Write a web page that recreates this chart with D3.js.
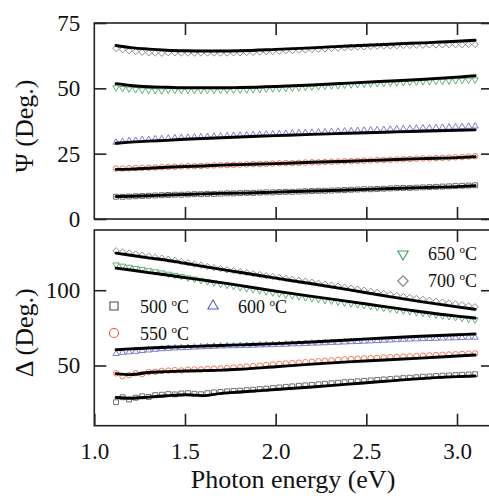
<!DOCTYPE html>
<html>
<head>
<meta charset="utf-8">
<script src="https://cdn.jsdelivr.net/npm/d3@7"></script>
<style>
  html, body { margin: 0; padding: 0; background: #fff; }
  svg { display: block; }
  svg text { font-family: "Liberation Serif", "Times New Roman", serif !important; }
</style>
</head>
<body>
<svg id="chart" width="489" height="498"></svg>
<script>
// Photon energies of the measured points (eV)
const energy = [
  1.120, 1.156, 1.192, 1.228, 1.264, 1.300, 1.336, 1.372,
  1.408, 1.444, 1.480, 1.516, 1.552, 1.588, 1.624, 1.660,
  1.696, 1.732, 1.768, 1.804, 1.840, 1.876, 1.912, 1.948,
  1.984, 2.020, 2.056, 2.092, 2.128, 2.164, 2.200, 2.236,
  2.272, 2.308, 2.344, 2.380, 2.416, 2.452, 2.488, 2.524,
  2.560, 2.596, 2.632, 2.668, 2.704, 2.740, 2.776, 2.812,
  2.848, 2.884, 2.920, 2.956, 2.992, 3.028, 3.064, 3.100
];

// Measured Psi (deg) for each annealing temperature
const psi500 = [
  8.5, 8.5, 8.6, 8.7, 8.8, 8.9, 9.0, 9.1,
  9.2, 9.3, 9.3, 9.4, 9.5, 9.5, 9.6, 9.6,
  9.7, 9.8, 9.8, 9.9, 10.0, 10.0, 10.1, 10.2,
  10.2, 10.3, 10.4, 10.4, 10.5, 10.6, 10.7, 10.8,
  10.8, 10.9, 11.0, 11.1, 11.2, 11.3, 11.4, 11.4,
  11.5, 11.6, 11.7, 11.8, 11.9, 11.9, 12.0, 12.1,
  12.2, 12.3, 12.4, 12.5, 12.6, 12.7, 12.8, 12.9
];
const psi550 = [
  19.3, 19.3, 19.4, 19.5, 19.6, 19.6, 19.7, 19.8,
  19.9, 20.0, 20.1, 20.2, 20.2, 20.3, 20.4, 20.5,
  20.6, 20.6, 20.7, 20.8, 20.9, 21.0, 21.0, 21.1,
  21.2, 21.3, 21.4, 21.4, 21.5, 21.6, 21.7, 21.7,
  21.8, 21.9, 22.0, 22.1, 22.1, 22.2, 22.3, 22.4,
  22.5, 22.6, 22.7, 22.8, 22.9, 23.0, 23.1, 23.2,
  23.2, 23.3, 23.4, 23.5, 23.6, 23.7, 23.9, 24.0
];
const psi600 = [
  29.3, 29.6, 29.9, 30.0, 30.3, 30.4, 30.6, 30.7,
  30.9, 31.0, 31.1, 31.2, 31.3, 31.4, 31.5, 31.6,
  31.7, 31.8, 31.9, 32.0, 32.1, 32.2, 32.3, 32.4,
  32.5, 32.6, 32.7, 32.8, 32.9, 33.0, 33.1, 33.2,
  33.3, 33.4, 33.5, 33.6, 33.7, 33.8, 33.9, 34.0,
  34.1, 34.2, 34.3, 34.4, 34.5, 34.6, 34.7, 34.8,
  34.8, 34.9, 35.0, 35.1, 35.2, 35.3, 35.4, 35.5
];
const psi650 = [
  50.3, 50.0, 49.8, 49.6, 49.4, 49.3, 49.2, 49.1,
  49.3, 49.3, 49.3, 49.3, 49.3, 49.3, 49.3, 49.3,
  49.4, 49.4, 49.4, 49.5, 49.5, 49.6, 49.7, 49.8,
  49.9, 50.0, 50.1, 50.2, 50.3, 50.5, 50.6, 50.7,
  50.9, 51.0, 51.1, 51.3, 51.4, 51.5, 51.7, 51.8,
  51.9, 52.0, 52.1, 52.2, 52.3, 52.4, 52.5, 52.6,
  52.7, 52.8, 52.8, 52.9, 53.0, 53.1, 53.2, 53.3
];
const psi700 = [
  65.3, 64.8, 64.4, 64.1, 63.8, 63.6, 63.5, 63.4,
  63.6, 63.6, 63.5, 63.5, 63.5, 63.5, 63.5, 63.5,
  63.5, 63.5, 63.6, 63.6, 63.7, 63.8, 63.9, 64.0,
  64.1, 64.2, 64.4, 64.5, 64.6, 64.7, 64.9, 65.0,
  65.1, 65.3, 65.4, 65.5, 65.7, 65.8, 65.9, 66.0,
  66.1, 66.2, 66.2, 66.3, 66.4, 66.4, 66.5, 66.5,
  66.6, 66.6, 66.6, 66.7, 66.7, 66.7, 66.8, 66.8
];

// Measured Delta (deg) for each annealing temperature
const delta500 = [
  25.6, 28.9, 27.4, 28.6, 29.5, 29.1, 30.3, 30.6,
  31.0, 30.8, 31.4, 31.6, 31.2, 30.9, 31.6, 32.1,
  32.4, 32.8, 33.1, 33.3, 33.6, 33.9, 34.3, 34.6,
  35.0, 35.4, 35.8, 36.1, 36.5, 36.8, 37.1, 37.5,
  37.8, 38.2, 38.5, 38.9, 39.2, 39.5, 39.8, 40.1,
  40.4, 40.7, 41.0, 41.3, 41.6, 41.9, 42.2, 42.5,
  42.7, 43.0, 43.2, 43.4, 43.6, 43.8, 44.0, 44.2
];
const delta550 = [
  44.8, 42.9, 43.6, 44.9, 44.3, 45.6, 45.8, 46.4,
  46.6, 46.9, 46.7, 47.2, 47.4, 47.3, 47.7, 47.9,
  48.0, 48.3, 48.6, 48.9, 49.3, 49.6, 49.9, 50.3,
  50.6, 51.0, 51.3, 51.6, 51.9, 52.2, 52.5, 52.8,
  53.1, 53.4, 53.7, 54.0, 54.3, 54.5, 54.7, 54.9,
  55.1, 55.3, 55.5, 55.7, 55.9, 56.1, 56.3, 56.5,
  56.7, 56.9, 57.1, 57.3, 57.5, 57.7, 57.9, 58.0
];
const delta600 = [
  57.8, 58.6, 58.9, 59.3, 59.8, 60.2, 60.6, 61.0,
  61.3, 61.5, 61.7, 61.9, 62.1, 62.3, 62.4, 62.6,
  62.8, 62.9, 63.0, 63.1, 63.2, 63.3, 63.5, 63.6,
  63.7, 63.9, 64.0, 64.2, 64.3, 64.5, 64.7, 64.8,
  65.0, 65.2, 65.3, 65.5, 65.7, 65.8, 66.0, 66.2,
  66.4, 66.6, 66.8, 67.0, 67.3, 67.4, 67.6, 67.7,
  67.8, 67.9, 68.1, 68.2, 68.3, 68.5, 68.6, 68.7
];
const delta650 = [
  116.9, 116.1, 115.4, 114.6, 113.9, 113.1, 112.4, 111.6,
  110.8, 110.0, 109.2, 108.3, 107.5, 106.7, 105.8, 105.0,
  104.1, 103.4, 102.7, 101.9, 101.2, 100.5, 99.8, 99.1,
  98.4, 97.7, 97.0, 96.4, 95.8, 95.2, 94.6, 94.0,
  93.4, 92.9, 92.3, 91.7, 91.1, 90.5, 89.9, 89.3,
  88.7, 88.2, 87.6, 87.0, 86.4, 85.9, 85.3, 84.8,
  84.2, 83.7, 83.1, 82.6, 82.0, 81.5, 80.9, 80.4
];
const delta700 = [
  126.2, 125.4, 124.7, 124.0, 123.3, 122.6, 121.9, 121.3,
  120.6, 119.8, 119.0, 118.2, 117.4, 116.6, 115.8, 115.0,
  114.3, 113.6, 113.0, 112.3, 111.7, 111.0, 110.4, 109.7,
  109.1, 108.5, 107.9, 107.2, 106.6, 106.0, 105.3, 104.6,
  104.0, 103.3, 102.7, 102.0, 101.4, 100.7, 100.0, 99.3,
  98.6, 97.9, 97.2, 96.5, 95.8, 95.2, 94.5, 93.9,
  93.3, 92.7, 92.1, 91.5, 90.9, 90.3, 89.6, 89.0
];

// Model fits
const fitEnergy = [1.12, 1.2, 1.3, 1.4, 1.5, 1.6, 1.7, 1.8, 2.0, 2.2, 2.4, 2.6, 2.8, 3.0, 3.1];
const psiFit500 = [8.6, 8.7, 8.9, 9.2, 9.4, 9.6, 9.8, 9.9, 10.3, 10.7, 11.1, 11.6, 12.0, 12.4, 12.7];
const psiFit550 = [19.0, 19.1, 19.4, 19.8, 20.1, 20.3, 20.6, 20.8, 21.2, 21.7, 22.1, 22.6, 23.1, 23.5, 23.8];
const psiFit600 = [29.0, 29.4, 29.8, 30.1, 30.5, 30.8, 31.1, 31.4, 31.9, 32.4, 32.8, 33.2, 33.6, 33.9, 34.1];
const psiFit650 = [51.8, 51.1, 50.6, 50.4, 50.2, 50.2, 50.2, 50.3, 50.7, 51.3, 52.0, 52.7, 53.4, 54.3, 54.8];
const psiFit700 = [66.4, 65.6, 65.0, 64.6, 64.4, 64.3, 64.3, 64.4, 64.9, 65.5, 66.2, 66.8, 67.4, 68.0, 68.4];
const deltaFit500 = [28.7, 28.2, 29.0, 29.9, 30.6, 30.0, 31.5, 32.4, 34.0, 35.7, 37.6, 39.5, 41.3, 42.6, 43.0];
const deltaFit550 = [44.6, 43.9, 45.3, 45.9, 46.3, 46.6, 46.9, 47.5, 49.2, 50.9, 52.4, 53.6, 54.9, 56.3, 57.0];
const deltaFit600 = [60.5, 61.0, 61.6, 62.1, 62.5, 62.9, 63.3, 63.7, 64.5, 65.6, 66.9, 68.3, 69.4, 70.4, 70.9];
const deltaFit650 = [114.7, 113.4, 111.7, 110.1, 108.4, 106.7, 105.0, 103.2, 99.4, 95.9, 92.6, 89.1, 85.7, 82.8, 81.5];
const deltaFit700 = [124.6, 123.2, 121.5, 119.9, 117.9, 115.8, 113.8, 111.9, 108.0, 104.3, 100.4, 96.3, 92.4, 88.9, 87.3];

// Axis ticks
const xTicks = [1.0, 1.5, 2.0, 2.5, 3.0];
const psiTicks = [0, 25, 50, 75];
const deltaTicks = [50, 100];
const temperatures = ["500", "550", "600", "650", "700"];

const series = [
  { temp: temperatures[0], color: "#4d4d4d", shape: "square",  psi: psi500, delta: delta500, psiFit: psiFit500, deltaFit: deltaFit500 },
  { temp: temperatures[1], color: "#ef5a3a", shape: "circle",  psi: psi550, delta: delta550, psiFit: psiFit550, deltaFit: deltaFit550 },
  { temp: temperatures[2], color: "#5a5fc4", shape: "triUp",   psi: psi600, delta: delta600, psiFit: psiFit600, deltaFit: deltaFit600 },
  { temp: temperatures[3], color: "#3c9c5c", shape: "triDown", psi: psi650, delta: delta650, psiFit: psiFit650, deltaFit: deltaFit650 },
  { temp: temperatures[4], color: "#7a7a7a", shape: "diamond", psi: psi700, delta: delta700, psiFit: psiFit700, deltaFit: deltaFit700 }
];

const svg = d3.select("#chart");
const frameLeft = 94.3, frameRight = 493;
const x = d3.scaleLinear().domain([1.0, 3.0]).range([94.3, 457]);

const panels = [
  { key: "psi", fit: "psiFit", top: 23, bottom: 219, domain: [0, 75], ticks: psiTicks, title: "\u03A8 (Deg.)" },
  { key: "delta", fit: "deltaFit", top: 230, bottom: 425.7, domain: [10, 140], ticks: deltaTicks, title: "\u0394 (Deg.)" }
];

function symbolPath(shape, scale) {
  const s = scale;
  switch (shape) {
    case "square":  return { d: d3.symbol(d3.symbolSquare, 24 * s)(), rot: 0 };
    case "circle":  return { d: d3.symbol(d3.symbolCircle, 24 * s)(), rot: 0 };
    case "triUp":   return { d: d3.symbol(d3.symbolTriangle, 17 * s)(), rot: 0 };
    case "triDown": return { d: d3.symbol(d3.symbolTriangle, 17 * s)(), rot: 180 };
    case "diamond": return { d: d3.symbol(d3.symbolSquare, 20 * s)(), rot: 45 };
  }
}

const tickLen = 12;

panels.forEach(p => {
  const y = d3.scaleLinear().domain(p.domain).range([p.bottom, p.top]);
  const g = svg.append("g");

  // Data markers
  series.forEach(s => {
    const sym = symbolPath(s.shape, 1);
    g.append("g").selectAll("path")
      .data(energy.map((e, i) => [e, s[p.key][i]]))
      .join("path")
      .attr("d", sym.d)
      .attr("transform", d => `translate(${x(d[0])},${y(d[1])}) rotate(${sym.rot})`)
      .attr("fill", "none")
      .attr("stroke", s.color)
      .attr("stroke-width", 0.9)
      .attr("stroke-opacity", 0.9);
  });

  // Fit curves
  const line = d3.line().x(d => x(d[0])).y(d => y(d[1])).curve(d3.curveMonotoneX);
  series.forEach(s => {
    g.append("path")
      .datum(fitEnergy.map((e, i) => [e, s[p.fit][i]]))
      .attr("d", line)
      .attr("fill", "none")
      .attr("stroke", "#000")
      .attr("stroke-width", 2.9)
      .attr("stroke-linecap", "round");
  });

  // Frame
  g.append("rect")
    .attr("x", frameLeft).attr("y", p.top)
    .attr("width", frameRight - frameLeft).attr("height", p.bottom - p.top)
    .attr("fill", "none").attr("stroke", "#222").attr("stroke-width", 1.6);

  // Inward ticks on all four sides
  const axisStyle = sel => {
    sel.select(".domain").remove();
    sel.selectAll(".tick line").attr("stroke", "#222").attr("stroke-width", 1.6);
  };
  svg.append("g").attr("transform", `translate(0,${p.top})`)
    .call(d3.axisTop(x).tickValues(xTicks.slice(1)).tickSize(-tickLen).tickFormat(""))
    .call(axisStyle);
  const bottomAxis = svg.append("g").attr("transform", `translate(0,${p.bottom})`)
    .call(d3.axisBottom(x).tickValues(p.key === "delta" ? xTicks : xTicks.slice(1))
      .tickSize(-tickLen).tickPadding(17)
      .tickFormat(p.key === "delta" ? d3.format(".1f") : ""))
    .call(axisStyle);
  bottomAxis.selectAll("text").attr("font-size", 23).attr("fill", "#111");

  const leftAxis = svg.append("g").attr("transform", `translate(${frameLeft},0)`)
    .call(d3.axisLeft(y).tickValues(p.ticks).tickSize(-tickLen).tickPadding(14).tickFormat(d3.format("d")))
    .call(axisStyle);
  leftAxis.selectAll("text").attr("font-size", 23).attr("fill", "#111");
  svg.append("g").attr("transform", `translate(${frameRight},0)`)
    .call(d3.axisRight(y).tickValues(p.ticks).tickSize(-tickLen).tickFormat(""))
    .call(axisStyle);

  // Axis title
  svg.append("text")
    .attr("transform", `translate(33,${(p.top + p.bottom) / 2 + 5}) rotate(-90)`)
    .attr("text-anchor", "middle")
    .attr("font-size", 26)
    .attr("fill", "#111")
    .text(p.title);
});

svg.append("text")
  .attr("x", 293).attr("y", 488)
  .attr("text-anchor", "middle")
  .attr("font-size", 26)
  .attr("fill", "#111")
  .text("Photon energy (eV)");

// Legend
const legendPos = [
  { mx: 114, my: 306, tx: 140, ty: 313 },
  { mx: 114, my: 333, tx: 140, ty: 340 },
  { mx: 213, my: 306, tx: 238, ty: 313 },
  { mx: 403, my: 254, tx: 428, ty: 260 },
  { mx: 403, my: 281, tx: 428, ty: 287 }
];
series.forEach((s, i) => {
  const pos = legendPos[i];
  const sym = symbolPath(s.shape, 2.7);
  svg.append("path")
    .attr("d", sym.d)
    .attr("transform", `translate(${pos.mx},${pos.my}) rotate(${sym.rot})`)
    .attr("fill", "none")
    .attr("stroke", s.color)
    .attr("stroke-width", 1.1);
  const t = svg.append("text").attr("x", pos.tx).attr("y", pos.ty)
    .attr("font-size", 18).attr("fill", "#111");
  t.append("tspan").text(s.temp + " ");
  t.append("tspan").attr("font-size", 11).attr("dy", -7).text("o");
  t.append("tspan").attr("dy", 7).text("C");
});
</script>
</body>
</html>
